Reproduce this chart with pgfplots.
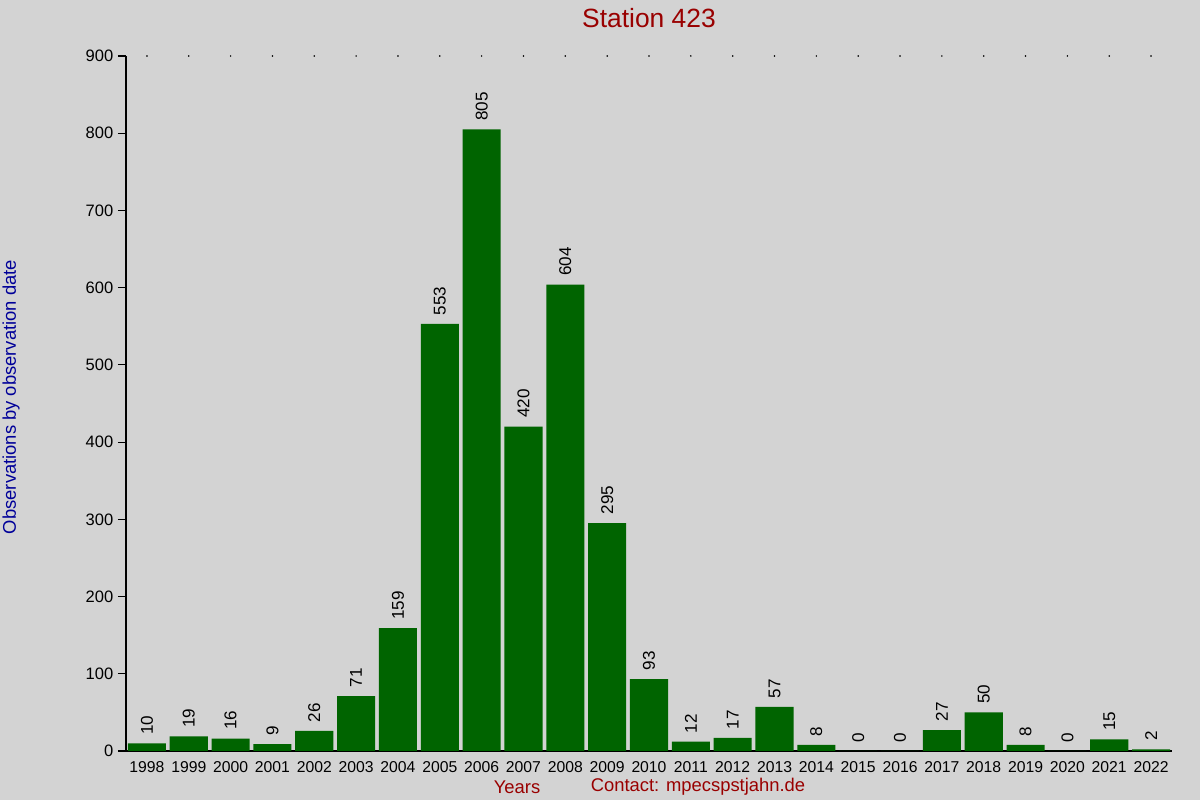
\documentclass[border=0pt]{standalone}
\usepackage{pgfplots}
\pgfplotsset{compat=1.18}
\usepackage{fontspec}
\setmainfont{Liberation Sans}
\definecolor{bg}{HTML}{D3D3D3}
\definecolor{bargreen}{HTML}{006400}
\definecolor{titlered}{HTML}{990000}
\definecolor{labblue}{HTML}{000099}
\begin{document}
\begin{tikzpicture}
\begin{scope}[x=0.75pt,y=0.75pt]
\fill[bg] (0,0) rectangle (1200,800);
\useasboundingbox (0,0) rectangle (1200,800);
\node[font=\fontsize{19.8}{22}\selectfont, text=titlered] at (649,782) {Station 423};
\node[font=\fontsize{13.8}{16}\selectfont, text=labblue, rotate=90] at (11,403) {Observations by observation date};
\node[font=\fontsize{13.8}{16}\selectfont, text=titlered] at (517,13) {Years};
\node[font=\fontsize{13.8}{16}\selectfont, text=titlered] at (698,13) {Contact: mpecspstjahn.de};
\end{scope}
\begin{axis}[
  at={(94.5pt,36.75pt)}, anchor=south west,
  scale only axis, width=784.5pt, height=521.25pt,
  xmin=-0.5, xmax=24.5, ymin=0, ymax=900,
  axis x line=bottom, axis y line=left,
  axis line style={-, line width=0.9pt},
  xtick={0,...,24},
  xticklabels={1998,1999,2000,2001,2002,2003,2004,2005,2006,2007,2008,2009,2010,2011,2012,2013,2014,2015,2016,2017,2018,2019,2020,2021,2022},
  x tick style={draw=none},
  ytick={0,100,...,900},
  y tick style={line width=0.8pt, black},
  major tick length=6pt,
  tick align=outside,
  yticklabel style={font=\fontsize{12.4}{14}\selectfont},
  xticklabel style={font=\fontsize{11.8}{14}\selectfont, yshift=2pt},
  /pgf/number format/assume math mode=true,
  clip=false,
]
\addplot[ybar, bar width=0.91, fill=bargreen, draw=none,
  nodes near coords,
  every node near coord/.append style={rotate=90, anchor=west, font=\fontsize{12.8}{14}\selectfont, text=black, xshift=3pt},
] coordinates {
(0,10) (1,19) (2,16) (3,9) (4,26) (5,71) (6,159) (7,553) (8,805) (9,420)
(10,604) (11,295) (12,93) (13,12) (14,17) (15,57) (16,8) (17,0) (18,0)
(19,27) (20,50) (21,8) (22,0) (23,15) (24,2)
};
\addplot[only marks, mark=*, mark size=0.35pt, black] coordinates {
(0,900) (1,900) (2,900) (3,900) (4,900) (5,900) (6,900) (7,900) (8,900) (9,900)
(10,900) (11,900) (12,900) (13,900) (14,900) (15,900) (16,900) (17,900) (18,900)
(19,900) (20,900) (21,900) (22,900) (23,900) (24,900)
};
\end{axis}
\end{tikzpicture}
\end{document}
